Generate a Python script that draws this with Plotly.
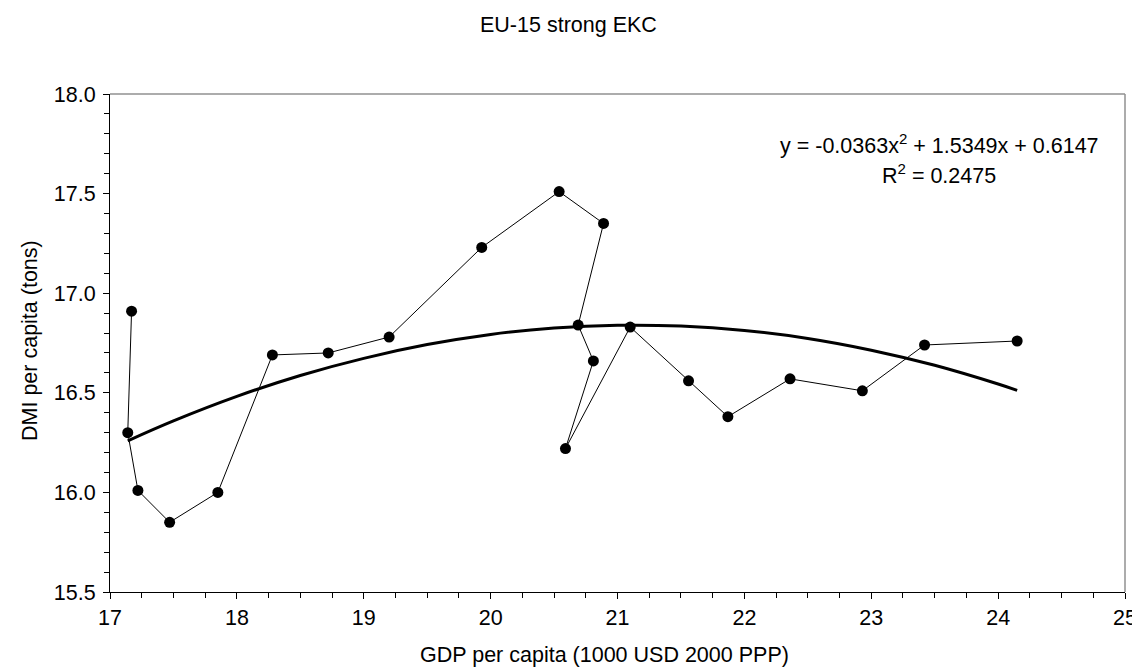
import plotly.graph_objects as go

# Data (connected in chart order)
gdp = [17.17, 17.14, 17.22, 17.47, 17.85, 18.28, 18.72, 19.20, 19.93, 20.54,
       20.89, 20.69, 20.81, 20.59, 21.10, 21.56, 21.87, 22.36, 22.93, 23.42, 24.15]
dmi = [16.91, 16.30, 16.01, 15.85, 16.00, 16.69, 16.70, 16.78, 17.23, 17.51,
       17.35, 16.84, 16.66, 16.22, 16.83, 16.56, 16.38, 16.57, 16.51, 16.74, 16.76]

# Trend curve values
trend_x = [17.14, 17.5, 18.0, 18.5, 19.0, 19.5, 20.0, 20.5, 21.0, 21.5,
           22.0, 22.5, 23.0, 23.5, 24.0, 24.15]
trend_y = [16.259, 16.359, 16.482, 16.587, 16.673, 16.742, 16.793, 16.825, 16.839, 16.835,
           16.813, 16.773, 16.714, 16.638, 16.544, 16.512]

title_text = "EU-15 strong EKC"
x_title = "GDP per capita (1000 USD 2000 PPP)"
y_title = "DMI per capita (tons)"
eq_text = "y = -0.0363x<sup>2</sup> + 1.5349x + 0.6147"
r2_text = "R<sup>2</sup> = 0.2475"

FONT = "Arial, 'Liberation Sans', sans-serif"
FS = 21.5

fig = go.Figure()
fig.add_trace(go.Scatter(
    x=gdp, y=dmi, mode="lines+markers",
    line=dict(color="black", width=1),
    marker=dict(color="black", size=11),
    showlegend=False, hoverinfo="x+y"))
fig.add_trace(go.Scatter(
    x=trend_x, y=trend_y, mode="lines",
    line=dict(color="black", width=3, shape="spline"),
    showlegend=False, hoverinfo="skip"))

L, R, T, B = 102, 1117, 86, 584
W, H = 1140, 669

fig.update_layout(
    width=W, height=H,
    margin=dict(l=L, r=W - R, t=T, b=H - B, pad=0),
    paper_bgcolor="white", plot_bgcolor="white",
    font=dict(family=FONT, size=FS, color="black"),
    xaxis=dict(range=[17, 25], dtick=1, tick0=17, showgrid=False, zeroline=False,
               showline=True, linecolor="black", linewidth=1,
               ticks="outside", ticklen=6, tickcolor="black", tickwidth=1,
               minor=dict(dtick=0.25, ticks="outside", ticklen=5, tickcolor="black", showgrid=False),
               tickfont=dict(family=FONT, size=FS, color="black")),
    yaxis=dict(range=[15.5, 18], dtick=0.5, tick0=15.5, tickformat=".1f", showgrid=False,
               zeroline=False, showline=True, linecolor="black", linewidth=1,
               ticks="outside", ticklen=6, tickcolor="black", tickwidth=1,
               ticklabelstandoff=3,
               minor=dict(dtick=0.1, ticks="outside", ticklen=5, tickcolor="black", showgrid=False),
               tickfont=dict(family=FONT, size=FS, color="black")),
    shapes=[
        dict(type="line", xref="paper", yref="paper", x0=0, x1=1, y0=1, y1=1,
             line=dict(color="#909090", width=1.5), layer="below"),
        dict(type="line", xref="paper", yref="paper", x0=1, x1=1, y0=0, y1=1,
             line=dict(color="#909090", width=1.5), layer="below"),
    ],
    annotations=[
        dict(text=title_text, xref="paper", yref="paper",
             x=(560 - L) / (R - L), y=(B - 17) / (B - T), xanchor="center", yanchor="middle",
             showarrow=False, font=dict(family=FONT, size=FS)),
        dict(text=x_title, xref="paper", yref="paper",
             x=(596 - L) / (R - L), y=(B - 647) / (B - T), xanchor="center", yanchor="middle",
             showarrow=False, font=dict(family=FONT, size=FS)),
        dict(text=y_title, xref="paper", yref="paper", textangle=-90,
             x=(22 - L) / (R - L), y=(B - 333) / (B - T), xanchor="center", yanchor="middle",
             showarrow=False, font=dict(family=FONT, size=FS)),
        dict(text=eq_text, xref="paper", yref="paper",
             x=(931 - L) / (R - L), y=(B - 136) / (B - T), xanchor="center", yanchor="middle",
             showarrow=False, font=dict(family=FONT, size=FS)),
        dict(text=r2_text, xref="paper", yref="paper",
             x=(931 - L) / (R - L), y=(B - 166) / (B - T), xanchor="center", yanchor="middle",
             showarrow=False, font=dict(family=FONT, size=FS)),
    ],
)

fig.write_html("out.html")
